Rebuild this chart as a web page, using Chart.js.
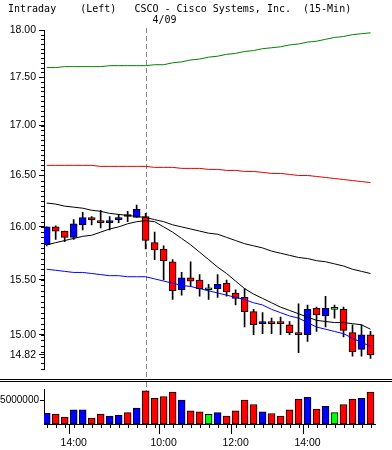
<!DOCTYPE html>
<html lang="en">
<head>
  <meta charset="UTF-8" />
  <title>CSCO Intraday (15-Min)</title>
  <script src="https://cdn.jsdelivr.net/npm/chart.js"></script>
  <style>
    body {
      margin: 0;
      background: #fff;
      width: 392px;
      height: 450px;
      position: relative;
      overflow: hidden;
    }

    #priceChart { position: absolute; left: 0; top: 0; }
    #volumeChart { position: absolute; left: 0; top: 382px; }

    .title {
      position: absolute;
      left: 8px;
      top: 3px;
      font: 10px/12px "DejaVu Sans Mono", monospace;
      white-space: pre;
      color: #000;
    }

    .divider {
      position: absolute;
      left: 0;
      top: 379px;
      width: 392px;
      height: 1px;
      border-top: 1px solid #000;
      border-bottom: 1px solid #000;
    }
  </style>
</head>
<body>
  <canvas id="priceChart" width="392" height="379"></canvas>
  <div class="divider"></div>
  <canvas id="volumeChart" width="392" height="68"></canvas>
  <div class="title">Intraday    (Left)   CSCO - Cisco Systems, Inc.  (15-Min)</div>

  <script>
    // 15 minute bars: end of 4/08 then the 4/09 session
    const times = ['13:15','13:30','13:45','14:00','14:15','14:30','14:45','15:00','15:15','15:30','15:45',
      '09:30','09:45','10:00','10:15','10:30','10:45','11:00','11:15','11:30','11:45','12:00','12:15',
      '12:30','12:45','13:00','13:15','13:30','13:45','14:00','14:15','14:30','14:45','15:00','15:15','15:30','15:45'];
    const hourLabels = ['10:00', '12:00', '14:00'];
    const sessionStart = 11;
    const sessionLabel = '4/09';

    const openPrices = [15.83,16.00,15.96,15.90,16.02,16.09,16.06,16.04,16.07,16.11,16.09,
      16.10,15.85,15.79,15.67,15.41,15.52,15.50,15.41,15.42,15.47,
      15.38,15.34,15.21,15.10,15.11,15.11,15.09,15.02,15.00,15.24,
      15.17,15.23,15.23,15.02,14.87,15.00];
    const highPrices = [16.00,16.01,15.96,16.07,16.14,16.10,16.16,16.10,16.12,16.15,16.21,
      16.13,15.95,15.82,15.69,15.57,15.67,15.55,15.46,15.55,15.50,
      15.41,15.42,15.23,15.20,15.15,15.16,15.12,15.28,15.27,15.25,
      15.35,15.27,15.25,15.09,15.09,15.03];
    const lowPrices = [15.82,15.88,15.86,15.88,15.97,16.02,15.99,15.97,16.04,16.05,16.09,
      15.79,15.69,15.50,15.32,15.36,15.44,15.35,15.32,15.34,15.35,
      15.27,15.07,15.00,15.01,15.01,15.00,15.00,14.84,14.94,15.03,
      15.07,15.15,14.98,14.81,14.81,14.79];
    const closePrices = [16.00,15.96,15.90,16.03,16.09,16.07,16.04,16.06,16.09,16.10,16.17,
      15.87,15.78,15.68,15.40,15.52,15.49,15.42,15.41,15.46,15.39,
      15.33,15.21,15.09,15.11,15.10,15.10,15.02,15.00,15.23,15.18,
      15.24,15.23,15.04,14.85,15.00,14.82];
    const volumes = [2250000,2060000,1440000,2940000,2940000,1250000,2060000,1630000,1810000,2380000,3310000,
      6930000,5370000,5740000,6680000,5000000,2750000,2560000,2000000,2380000,1630000,
      2750000,5000000,4060000,2560000,2190000,1630000,2940000,5190000,5560000,3130000,
      3690000,2380000,4060000,5190000,5370000,6680000];

    // moving averages, named by their line colour
    const greenAvg = [17.60,17.60,17.61,17.61,17.61,17.61,17.61,17.62,17.62,17.62,17.62,
      17.62,17.63,17.63,17.65,17.66,17.68,17.69,17.71,17.72,17.74,
      17.75,17.77,17.78,17.80,17.81,17.82,17.84,17.85,17.87,17.88,
      17.90,17.92,17.93,17.95,17.96,17.97];
    const redAvg = [16.60,16.60,16.60,16.60,16.60,16.60,16.59,16.59,16.59,16.59,16.59,
      16.59,16.58,16.58,16.58,16.57,16.57,16.57,16.56,16.56,16.55,
      16.55,16.54,16.54,16.53,16.52,16.52,16.51,16.50,16.50,16.49,
      16.48,16.47,16.46,16.45,16.44,16.43];
    const blackSlowAvg = [16.23,16.22,16.20,16.19,16.18,16.16,16.15,16.13,16.12,16.11,16.10,
      16.09,16.07,16.05,16.02,16.00,15.98,15.96,15.94,15.93,15.90,
      15.87,15.84,15.82,15.80,15.77,15.75,15.73,15.71,15.70,15.68,
      15.67,15.65,15.63,15.60,15.58,15.56];
    const blackFastAvg = [15.83,15.85,15.87,15.89,15.91,15.92,15.95,15.98,16.00,16.03,16.05,
      16.06,16.05,16.00,15.95,15.89,15.83,15.76,15.69,15.62,15.56,
      15.49,15.42,15.37,15.33,15.29,15.25,15.22,15.19,15.16,15.13,
      15.12,15.11,15.11,15.10,15.09,15.05];
    const blueAvg = [15.60,15.59,15.58,15.57,15.57,15.56,15.55,15.54,15.54,15.53,15.53,
      15.53,15.51,15.49,15.47,15.45,15.44,15.42,15.40,15.38,15.36,
      15.34,15.32,15.29,15.27,15.23,15.20,15.17,15.15,15.11,15.07,
      15.05,15.03,15.01,14.97,14.93,14.90];

    const priceTicks = [18.00, 17.50, 17.00, 16.50, 16.00, 15.50, 15.00, 14.82];
    const volumeTicks = [5000000];

    const idx = times.map((t, i) => i);

    // minor price ticks every 5 cents
    const minorPriceTicks = [];
    for (let k = 294; k <= 360; k++) minorPriceTicks.push(k * 0.05);

    const axisFont = { family: 'Liberation Sans', size: 10.5 };

    function candleColor(i) {
      if (closePrices[i] > openPrices[i]) return '#0000ff';
      if (closePrices[i] < openPrices[i]) return '#ff0000';
      return '#00ff00';
    }

    function isHourLabel(i) {
      return hourLabels.includes(times[i]);
    }

    // dashed line at the start of the new session (+ date in the price panel)
    const sessionLine = {
      id: 'sessionLine',
      beforeDatasetsDraw(chart, args, opts) {
        const ctx = chart.ctx;
        const area = chart.chartArea;
        const x = Math.round(chart.scales.x.getPixelForValue(sessionStart)) + 0.5;
        ctx.save();
        ctx.strokeStyle = '#888';
        ctx.lineWidth = 1;
        ctx.setLineDash([5, 3]);
        ctx.beginPath();
        if (opts.price) {
          ctx.moveTo(x, area.top - 2);
          ctx.lineTo(x, chart.height);
        } else {
          ctx.moveTo(x, 0);
          ctx.lineTo(x, area.bottom);
        }
        ctx.stroke();
        if (opts.price) {
          ctx.setLineDash([]);
          ctx.fillStyle = '#000';
          ctx.font = '10px "DejaVu Sans Mono"';
          ctx.textBaseline = 'alphabetic';
          ctx.fillText(sessionLabel, x + 6, area.top - 7);
        }
        ctx.restore();
      }
    };

    // short ticks that Chart.js can't size separately
    const minorTicks = {
      id: 'minorTicks',
      afterDraw(chart, args, opts) {
        const ctx = chart.ctx;
        ctx.save();
        ctx.strokeStyle = '#000';
        ctx.lineWidth = 1;
        ctx.beginPath();
        if (opts.axis === 'y') {
          const s = chart.scales.y;
          minorPriceTicks.forEach(v => {
            const y = Math.round(s.getPixelForValue(v)) + 0.5;
            if (y < chart.chartArea.top || y > chart.chartArea.bottom) return;
            ctx.moveTo(s.right - 3, y);
            ctx.lineTo(s.right, y);
          });
        } else {
          const s = chart.scales.x;
          idx.forEach(i => {
            const x = Math.round(s.getPixelForValue(i)) + 0.5;
            ctx.moveTo(x, s.top);
            ctx.lineTo(x, s.top + 4);
          });
        }
        ctx.stroke();
        ctx.restore();
      }
    };

    function avgLine(values, color) {
      return {
        type: 'line',
        data: idx.map(i => ({ x: i, y: values[i] })),
        borderColor: color,
        borderWidth: 1,
        pointRadius: 0,
        tension: 0,
        order: 0
      };
    }

    new Chart(document.getElementById('priceChart'), {
      type: 'bar',
      data: {
        datasets: [
          avgLine(greenAvg, '#008000'),
          avgLine(redAvg, '#e00000'),
          avgLine(blackSlowAvg, '#000000'),
          avgLine(blackFastAvg, '#000000'),
          avgLine(blueAvg, '#0000ff'),
          {
            data: idx.map(i => ({ x: i, y: [lowPrices[i], highPrices[i]] })),
            backgroundColor: '#000',
            barThickness: 1,
            grouped: false,
            order: 2
          },
          {
            data: idx.map(i => ({ x: i, y: [openPrices[i], closePrices[i]] })),
            backgroundColor: idx.map(candleColor),
            borderColor: '#000',
            borderWidth: 1,
            borderSkipped: false,
            barThickness: 7,
            minBarLength: 2,
            grouped: false,
            order: 1
          }
        ]
      },
      options: {
        responsive: false,
        animation: false,
        devicePixelRatio: 1,
        layout: { padding: { top: 30, right: 17, bottom: 6, left: 0 } },
        plugins: {
          legend: { display: false },
          tooltip: { enabled: false },
          sessionLine: { price: true },
          minorTicks: { axis: 'y' }
        },
        scales: {
          x: { type: 'linear', min: -0.3, max: 36.5, offset: false, display: false },
          y: {
            type: 'logarithmic',
            min: 14.69,
            max: 18.00,
            afterBuildTicks: s => { s.ticks = priceTicks.map(v => ({ value: v })); },
            afterFit: s => { s.width = 44; },
            ticks: {
              autoSkip: false,
              padding: 3,
              color: '#000',
              font: axisFont,
              callback: v => Number(v).toFixed(2)
            },
            grid: { drawOnChartArea: false, tickLength: 5, tickColor: '#000' },
            border: { color: '#000' }
          }
        }
      },
      plugins: [sessionLine, minorTicks]
    });

    new Chart(document.getElementById('volumeChart'), {
      type: 'bar',
      data: {
        datasets: [{
          data: idx.map(i => ({ x: i, y: volumes[i] })),
          backgroundColor: idx.map(candleColor),
          borderColor: '#000',
          borderWidth: 1,
          borderSkipped: false,
          barThickness: 7
        }]
      },
      options: {
        responsive: false,
        animation: false,
        devicePixelRatio: 1,
        layout: { padding: { top: 3, right: 17, bottom: 0, left: 0 } },
        plugins: {
          legend: { display: false },
          tooltip: { enabled: false },
          sessionLine: { price: false },
          minorTicks: { axis: 'x' }
        },
        scales: {
          x: {
            type: 'linear',
            min: -0.3,
            max: 36.5,
            offset: false,
            afterBuildTicks: s => { s.ticks = idx.map(i => ({ value: i })); },
            afterFit: s => { s.height = 26; },
            ticks: {
              autoSkip: false,
              maxRotation: 0,
              padding: 3,
              color: '#000',
              font: axisFont,
              callback: v => isHourLabel(v) ? times[v] : ''
            },
            grid: {
              drawOnChartArea: false,
              tickLength: 10,
              tickColor: c => (c.tick && isHourLabel(c.tick.value)) ? '#000' : 'rgba(0,0,0,0)'
            },
            border: { color: '#000' }
          },
          y: {
            min: 0,
            max: 7300000,
            afterBuildTicks: s => { s.ticks = volumeTicks.map(v => ({ value: v })); },
            afterFit: s => { s.width = 44; },
            ticks: {
              padding: 1,
              color: '#000',
              font: { family: 'Liberation Sans', size: 10 },
              callback: v => String(v)
            },
            grid: { drawOnChartArea: false, tickLength: 4, tickColor: '#000' },
            border: { color: '#000' }
          }
        }
      },
      plugins: [sessionLine, minorTicks]
    });
  </script>
</body>
</html>
